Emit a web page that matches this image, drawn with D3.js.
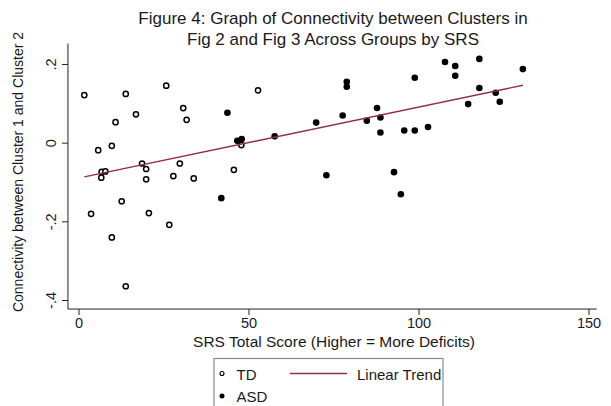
<!DOCTYPE html>
<html>
<head>
<meta charset="utf-8">
<script src="https://cdn.jsdelivr.net/npm/d3@7"></script>
<style>
  body { margin: 0; background: #fff; }
  svg { display: block; font-family: "Liberation Sans", Arial, sans-serif; }
</style>
</head>
<body>
<svg id="chart" width="611" height="406"></svg>
<script>
// Typically developing group: SRS total score and cluster connectivity
const tdSrs  = [1.7, 13.9, 25.8, 52.8, 10.9, 16.9, 30.8, 31.8, 5.8, 9.8, 6.8, 7.9, 6.7,
                18.7, 19.9, 19.9, 29.8, 27.9, 33.9, 45.7, 47.9, 3.7, 12.7, 20.7, 9.8, 26.7, 13.9];
const tdConn = [0.121, 0.124, 0.145, 0.133, 0.052, 0.072, 0.088, 0.058, -0.019, -0.008, -0.074, -0.073, -0.089,
                -0.053, -0.067, -0.093, -0.053, -0.085, -0.091, -0.069, -0.006, -0.181, -0.149, -0.179, -0.241, -0.209, -0.365];

// ASD group
const asdSrs  = [43.8, 46.7, 48.0, 42.0, 57.7, 69.9, 77.7, 78.9, 78.9, 72.9, 84.8, 87.8, 88.8, 88.8, 95.8,
                 98.9, 102.8, 98.9, 92.8, 94.8, 107.8, 110.8, 110.8, 117.9, 117.9, 114.6, 122.7, 123.9, 130.7];
const asdConn = [0.076, 0.005, 0.009, -0.141, 0.016, 0.051, 0.069, 0.155, 0.142, -0.083, 0.056, 0.088, 0.064, 0.026, 0.031,
                 0.031, 0.040, 0.165, -0.075, -0.131, 0.205, 0.195, 0.170, 0.213, 0.139, 0.098, 0.127, 0.104, 0.187];

// Linear trend endpoints (over the observed SRS range)
const trendSrs  = [1.7, 130.7];
const trendConn = [-0.087, 0.146];

const xTicks = [0, 50, 100, 150];
const yTicks = [-0.4, -0.2, 0, 0.2];
const yTickLabels = ["-.4", "-.2", "0", ".2"];

const titleLines = ["Figure 4: Graph of Connectivity between Clusters in",
                    "Fig 2 and Fig 3 Across Groups by SRS"];
const xTitle = "SRS Total Score (Higher = More Deficits)";
const yTitle = "Connectivity between Cluster 1 and Cluster 2";

const trendColor = "#8f3040";

const svg = d3.select("#chart");

const x = d3.scaleLinear().domain([0, 150]).range([78.5, 588.5]);
const y = d3.scaleLinear().domain([-0.4, 0.2]).range([300, 64]);
const xExtent = [-3.1, 152.4];
const yExtent = [-0.423, 0.252];

// Title
svg.append("g").selectAll("text").data(titleLines).join("text")
  .attr("x", 333).attr("y", (d, i) => 24 + i * 21)
  .attr("text-anchor", "middle").attr("font-size", 17).attr("fill", "#1a1a1a")
  .text(d => d);

// Axis lines
const axisY0 = y(yExtent[0]);
svg.append("line").attr("x1", x(xExtent[0])).attr("x2", x(xExtent[1]))
  .attr("y1", axisY0).attr("y2", axisY0).attr("stroke", "#222").attr("stroke-width", 1);
svg.append("line").attr("x1", x(xExtent[0])).attr("x2", x(xExtent[0]))
  .attr("y1", y(yExtent[0])).attr("y2", y(yExtent[1])).attr("stroke", "#222").attr("stroke-width", 1);

// X axis
const xAxis = svg.append("g").attr("transform", `translate(0,${axisY0})`)
  .call(d3.axisBottom(x).tickValues(xTicks).tickSize(6).tickPadding(3).tickFormat(d3.format("d")));
xAxis.select(".domain").remove();
xAxis.selectAll("line").attr("stroke", "#222");
xAxis.selectAll("text").attr("font-size", 14.5).attr("fill", "#1a1a1a")
  .attr("font-family", "'Liberation Sans', Arial, sans-serif");

// Y axis with rotated labels
const yAxis = svg.append("g").attr("transform", `translate(${x(xExtent[0])},0)`)
  .call(d3.axisLeft(y).tickValues(yTicks).tickSize(6).tickFormat((d, i) => yTickLabels[i]));
yAxis.select(".domain").remove();
yAxis.selectAll("line").attr("stroke", "#222");
yAxis.selectAll("text")
  .attr("x", null).attr("dy", null)
  .attr("transform", "translate(-12,0) rotate(-90)")
  .attr("text-anchor", "middle")
  .attr("font-size", 14.5).attr("fill", "#1a1a1a")
  .attr("font-family", "'Liberation Sans', Arial, sans-serif");

// Axis titles
svg.append("text").attr("x", 334).attr("y", 346.5).attr("text-anchor", "middle")
  .attr("font-size", 15.5).attr("fill", "#1a1a1a").text(xTitle);
svg.append("text").attr("transform", "translate(23,172) rotate(-90)").attr("text-anchor", "middle")
  .attr("font-size", 14).attr("fill", "#1a1a1a").text(yTitle);

// Points
const plot = svg.append("g");
plot.selectAll("circle.td").data(tdSrs).join("circle").attr("class", "td")
  .attr("cx", d => x(d)).attr("cy", (d, i) => y(tdConn[i])).attr("r", 2.6)
  .attr("fill", "#fff").attr("stroke", "#000").attr("stroke-width", 1.5);
plot.selectAll("circle.asd").data(asdSrs).join("circle").attr("class", "asd")
  .attr("cx", d => x(d)).attr("cy", (d, i) => y(asdConn[i])).attr("r", 3.3)
  .attr("fill", "#000");

// Linear trend
const line = d3.line().x(d => x(d[0])).y(d => y(d[1]));
plot.append("path").datum(trendSrs.map((s, i) => [s, trendConn[i]]))
  .attr("d", line).attr("fill", "none").attr("stroke", trendColor).attr("stroke-width", 1.4);

// Legend
const lg = svg.append("g");
lg.append("rect").attr("x", 214).attr("y", 358.5).attr("width", 229).attr("height", 52)
  .attr("fill", "#fff").attr("stroke", "#8a8a8a").attr("stroke-width", 1.2);
lg.append("circle").attr("cx", 222).attr("cy", 373.5).attr("r", 2)
  .attr("fill", "#fff").attr("stroke", "#000").attr("stroke-width", 1.1);
lg.append("text").attr("x", 236.5).attr("y", 379.5).attr("font-size", 15).attr("fill", "#1a1a1a").text("TD");
lg.append("circle").attr("cx", 222).attr("cy", 396).attr("r", 2.5).attr("fill", "#000");
lg.append("text").attr("x", 236.5).attr("y", 402).attr("font-size", 15).attr("fill", "#1a1a1a").text("ASD");
lg.append("line").attr("x1", 290).attr("x2", 347).attr("y1", 373.5).attr("y2", 373.5)
  .attr("stroke", trendColor).attr("stroke-width", 1.4);
lg.append("text").attr("x", 357).attr("y", 379.5).attr("font-size", 15).attr("fill", "#1a1a1a").text("Linear Trend");
</script>
</body>
</html>
